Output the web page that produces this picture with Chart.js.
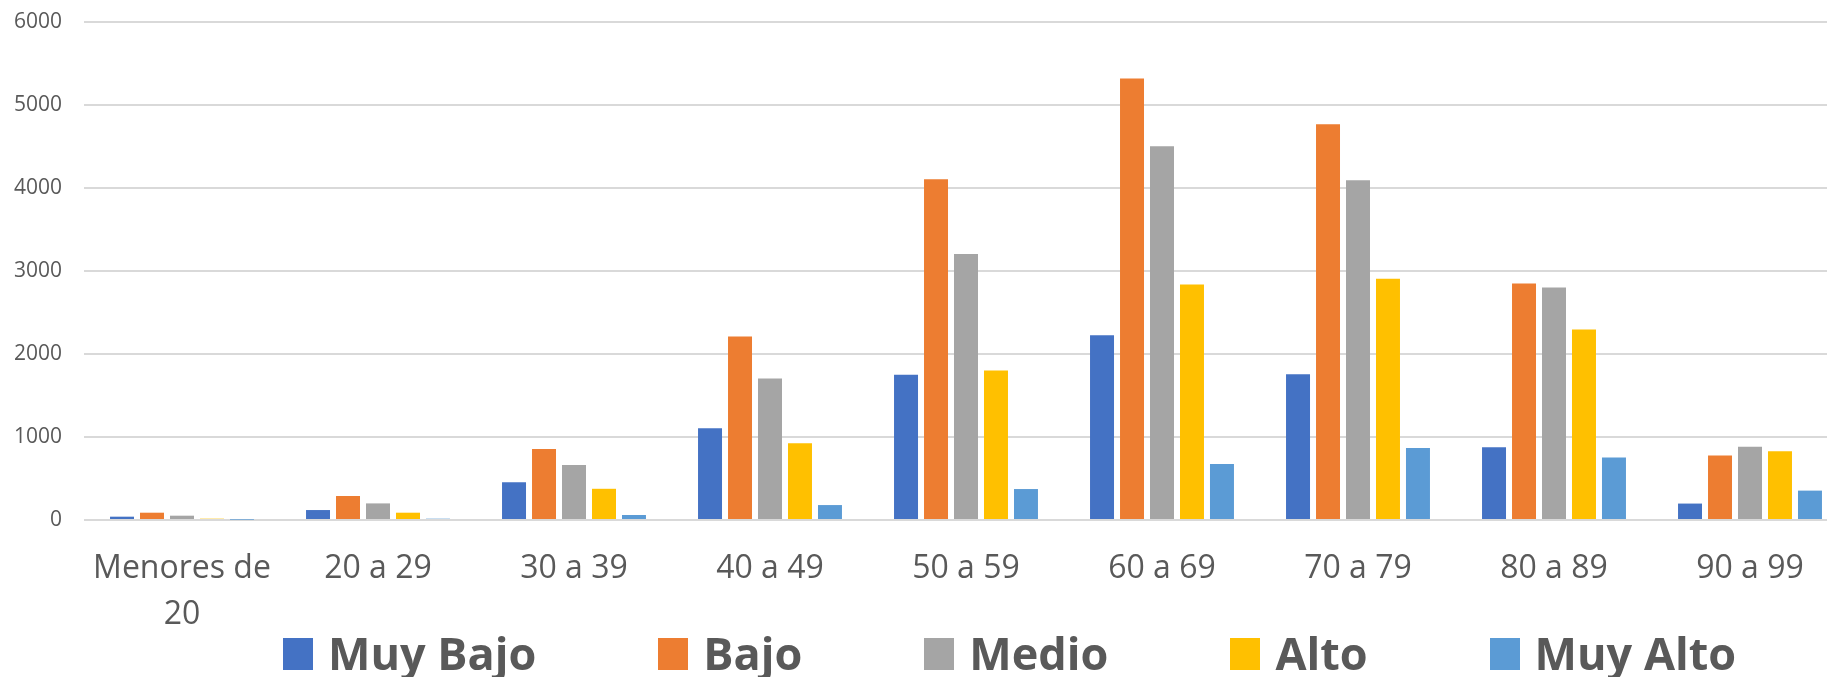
<!DOCTYPE html>
<html lang="es">
<head>
<meta charset="utf-8">
<title>Distribución por grupo de edad</title>
<script src="https://cdn.jsdelivr.net/npm/chart.js@4/dist/chart.umd.min.js"></script>
<style>
  html, body { margin: 0; padding: 0; background: #ffffff; width: 1827px; height: 677px; overflow: hidden; }
  #wrap { position: absolute; left: 0; top: 0; width: 1848px; height: 677px; }
  #legend {
    position: absolute; left: 283px; top: 630px;
    font-family: "Open Sans", sans-serif; font-weight: 700; font-size: 45px;
    line-height: 45px; color: #595959; white-space: nowrap;
  }
  #legend .item { display: inline-block; margin-right: 122px; }
  #legend .sw { display: inline-block; width: 30px; height: 32px; margin-right: 15px; vertical-align: baseline; }
</style>
</head>
<body>
<div id="wrap"><canvas id="chart" width="1848" height="677"></canvas></div>
<div id="legend"></div>
<script>
// Age groups on the category axis
const categories = [["Menores de", "20"], "20 a 29", "30 a 39", "40 a 49", "50 a 59", "60 a 69", "70 a 79", "80 a 89", "90 a 99"];

// Series names and counts per age group
const seriesNames = ["Muy Bajo", "Bajo", "Medio", "Alto", "Muy Alto"];
const muyBajo = [40, 120, 456, 1104, 1750, 2225, 1755, 876, 198];
const bajo    = [88, 289, 856, 2210, 4105, 5320, 4767, 2848, 776];
const medio   = [52, 200, 664, 1705, 3205, 4504, 4092, 2800, 884];
const alto    = [16, 88, 376, 924, 1800, 2836, 2908, 2294, 828];
const muyAlto = [4, 16, 60, 180, 373, 675, 867, 752, 354];

// Value axis ticks
const yTicks = [0, 1000, 2000, 3000, 4000, 5000, 6000];

const seriesColors = ["#4472C4", "#ED7D31", "#A5A5A5", "#FFC000", "#5B9BD5"];
const seriesValues = [muyBajo, bajo, medio, alto, muyAlto];

const datasets = seriesNames.map((name, i) => ({
  label: name,
  data: seriesValues[i],
  backgroundColor: seriesColors[i],
  borderWidth: 0,
  categoryPercentage: 0.765,
  barPercentage: 0.8
}));

const chart = new Chart(document.getElementById("chart"), {
  type: "bar",
  data: { labels: categories, datasets },
  options: {
    responsive: false,
    animation: false,
    layout: { padding: { top: 22, left: 0, right: 0, bottom: 0 } },
    plugins: { legend: { display: false }, tooltip: { enabled: false } },
    scales: {
      x: {
        grid: { display: false, drawTicks: false },
        border: { display: false },
        ticks: {
          color: "#595959",
          font: { family: "Open Sans", size: 32, lineHeight: 1.44 },
          padding: 26,
          maxRotation: 0,
          autoSkip: false
        },
        afterFit: (scale) => { scale.height = 157; }
      },
      y: {
        min: 0,
        max: 6000,
        afterBuildTicks: (scale) => { scale.ticks = yTicks.map(v => ({ value: v })); },
        grid: { color: "#D9D9D9", lineWidth: 2, drawTicks: false },
        border: { display: false },
        ticks: {
          color: "#595959",
          font: { family: "Open Sans", size: 21 },
          padding: 22,
          callback: (v) => String(v)
        },
        afterFit: (scale) => {
          scale.width = 84;
          // the label overhang is absorbed by the layout's top padding
          scale.paddingTop = 0;
          scale.paddingBottom = 0;
        }
      }
    }
  }
});

// Legend below the plot, built from the dataset names and colours
const legend = document.getElementById("legend");
chart.data.datasets.forEach(ds => {
  const item = document.createElement("span");
  item.className = "item";
  const sw = document.createElement("span");
  sw.className = "sw";
  sw.style.background = ds.backgroundColor;
  item.appendChild(sw);
  item.appendChild(document.createTextNode(ds.label));
  legend.appendChild(item);
});
</script>
</body>
</html>
